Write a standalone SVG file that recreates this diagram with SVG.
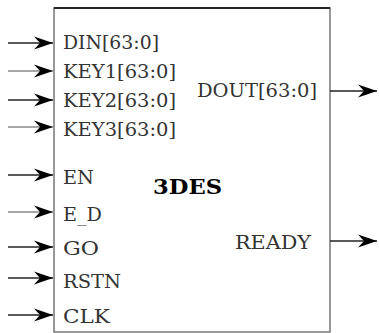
<svg xmlns="http://www.w3.org/2000/svg" width="379" height="333" viewBox="0 0 379 333">
<style>
.lbl{font-family:"DejaVu Serif","Liberation Serif",serif;font-size:18px;fill:#333}
.title{font-family:"DejaVu Serif","Liberation Serif",serif;font-size:20px;font-weight:bold;fill:#000}
.w{stroke:#222;stroke-width:1.5;fill:none}
.wg{stroke:#888;stroke-width:1.5;fill:none}
</style>
<defs>
<marker id="ah" markerUnits="userSpaceOnUse" markerWidth="20" markerHeight="14" viewBox="-20 -7 20 14" refX="0" refY="0" orient="auto">
<path d="M0,0 L-19,-6.5 L-13,0 L-19,6.5 Z" fill="#000"/>
</marker>
</defs>
<g id="block">
<rect x="54" y="8" width="276" height="324" fill="#fff" stroke="#777" stroke-width="1.5"/>
<line x1="54" y1="8" x2="330" y2="8" stroke="#222" stroke-width="2"/>
<text class="title" x="153" y="194" textLength="69" lengthAdjust="spacingAndGlyphs">3DES</text>
</g>
<g id="ports">
<text class="lbl" x="63" y="49" textLength="96" lengthAdjust="spacingAndGlyphs">DIN[63:0]</text>
<text class="lbl" x="63" y="78" textLength="113" lengthAdjust="spacingAndGlyphs">KEY1[63:0]</text>
<text class="lbl" x="63" y="107" textLength="113" lengthAdjust="spacingAndGlyphs">KEY2[63:0]</text>
<text class="lbl" x="63" y="136" textLength="113" lengthAdjust="spacingAndGlyphs">KEY3[63:0]</text>
<text class="lbl" x="63" y="184" textLength="31" lengthAdjust="spacingAndGlyphs">EN</text>
<text class="lbl" x="63" y="221" textLength="39" lengthAdjust="spacingAndGlyphs">E_D</text>
<text class="lbl" x="63" y="255" textLength="36" lengthAdjust="spacingAndGlyphs">GO</text>
<text class="lbl" x="63" y="288" textLength="58" lengthAdjust="spacingAndGlyphs">RSTN</text>
<text class="lbl" x="63" y="323" textLength="47" lengthAdjust="spacingAndGlyphs">CLK</text>
<text class="lbl" x="197" y="97" textLength="120" lengthAdjust="spacingAndGlyphs">DOUT[63:0]</text>
<text class="lbl" x="235" y="249" textLength="76" lengthAdjust="spacingAndGlyphs">READY</text>
</g>
<g id="connectors">
<line class="w" x1="8" y1="43" x2="53" y2="43" marker-end="url(#ah)"/>
<line class="wg" x1="8" y1="71" x2="53" y2="71" marker-end="url(#ah)"/>
<line class="w" x1="8" y1="100" x2="53" y2="100" marker-end="url(#ah)"/>
<line class="wg" x1="8" y1="127" x2="53" y2="127" marker-end="url(#ah)"/>
<line class="w" x1="8" y1="175" x2="53" y2="175" marker-end="url(#ah)"/>
<line class="wg" x1="8" y1="212" x2="53" y2="212" marker-end="url(#ah)"/>
<line class="w" x1="8" y1="247" x2="53" y2="247" marker-end="url(#ah)"/>
<line class="w" x1="8" y1="278" x2="53" y2="278" marker-end="url(#ah)"/>
<line class="w" x1="8" y1="315" x2="53" y2="315" marker-end="url(#ah)"/>
<line class="w" x1="330" y1="91" x2="377" y2="91" marker-end="url(#ah)"/>
<line class="w" x1="330" y1="241" x2="377" y2="241" marker-end="url(#ah)"/>
</g>
</svg>
